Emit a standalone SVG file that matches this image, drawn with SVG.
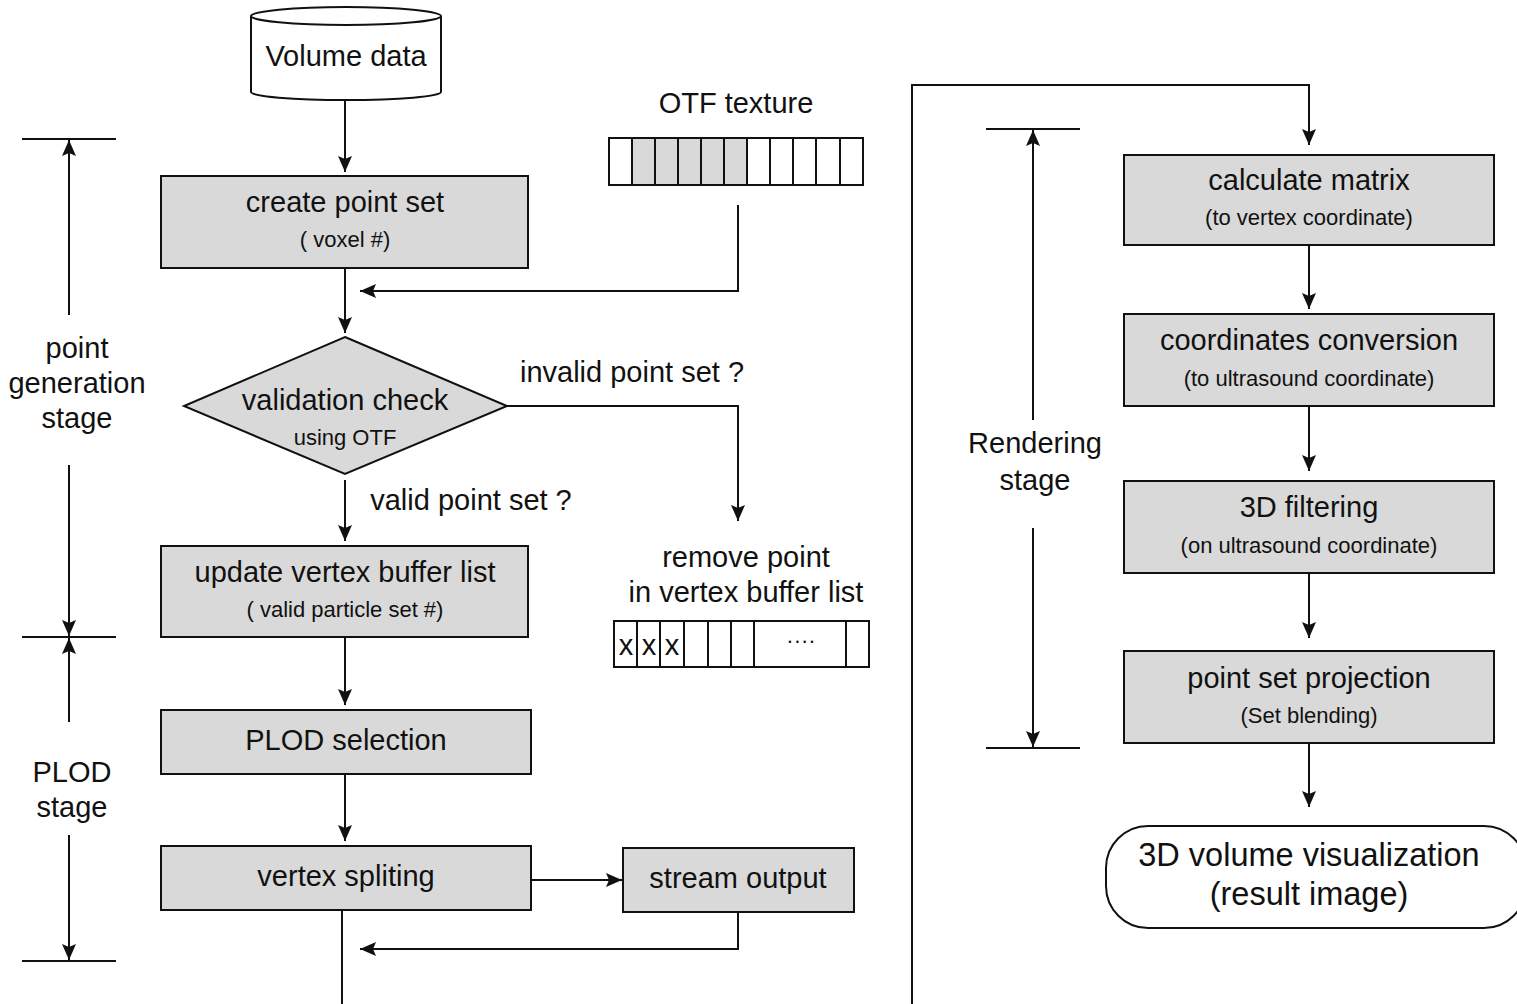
<svg xmlns="http://www.w3.org/2000/svg" width="1517" height="1004" viewBox="0 0 1517 1004">
  <style>
    text { font-family: "Liberation Sans", Arial, sans-serif; fill: #111; text-anchor: middle; }
    .t { font-size: 29px; }
    .s { font-size: 22px; }
    .big { font-size: 32.5px; }
    .box { fill: #d9d9d9; stroke: #111; stroke-width: 2; }
    .open { fill: #fff; stroke: #111; stroke-width: 2; }
    .ln { fill: none; stroke: #111; stroke-width: 2; }
    .arr { fill: none; stroke: #111; stroke-width: 2; marker-end: url(#ah); }
  </style>
  <defs>
    <marker id="ah" viewBox="0 0 16 14" refX="16" refY="7" markerWidth="16" markerHeight="14" markerUnits="userSpaceOnUse" orient="auto">
      <path d="M0,0 L16,7 L0,14 L3,7 Z" fill="#111"/>
    </marker>
  </defs>
  <rect width="1517" height="1004" fill="#fff"/>

  <!-- stage brackets -->
  <g id="stage-point-generation">
    <line class="ln" x1="22" y1="139" x2="116" y2="139"/>
    <line class="arr" x1="69" y1="315" x2="69" y2="140"/>
    <text class="t" x="77" y="358">point</text>
    <text class="t" x="77" y="393">generation</text>
    <text class="t" x="77" y="428">stage</text>
    <line class="arr" x1="69" y1="465" x2="69" y2="636"/>
    <line class="ln" x1="22" y1="637" x2="116" y2="637"/>
  </g>
  <g id="stage-plod">
    <line class="arr" x1="69" y1="722" x2="69" y2="638"/>
    <text class="t" x="72" y="782">PLOD</text>
    <text class="t" x="72" y="817">stage</text>
    <line class="arr" x1="69" y1="835" x2="69" y2="960"/>
    <line class="ln" x1="22" y1="961" x2="116" y2="961"/>
  </g>
  <g id="stage-rendering">
    <line class="ln" x1="986" y1="129" x2="1080" y2="129"/>
    <line class="arr" x1="1033" y1="420" x2="1033" y2="130"/>
    <text class="t" x="1035" y="453">Rendering</text>
    <text class="t" x="1035" y="490">stage</text>
    <line class="arr" x1="1033" y1="528" x2="1033" y2="747"/>
    <line class="ln" x1="986" y1="748" x2="1080" y2="748"/>
  </g>

  <!-- nodes -->
  <g id="volume-data">
    <path class="open" d="M251,16 L251,92 A95,8 0 0 0 441,92 L441,16"/>
    <ellipse class="open" cx="346" cy="16" rx="95" ry="9"/>
    <text class="t" x="346" y="66">Volume data</text>
  </g>

  <g id="otf-texture">
    <text class="t" x="736" y="113">OTF texture</text>
    <rect x="632" y="138" width="115" height="47" fill="#d9d9d9"/>
    <rect class="ln" x="609" y="138" width="254" height="47"/>
    <path class="ln" d="M632,138 V185 M655,138 V185 M678,138 V185 M701,138 V185 M724,138 V185 M747,138 V185 M770,138 V185 M793,138 V185 M816,138 V185 M840,138 V185"/>
  </g>

  <g id="create-point-set">
    <rect class="box" x="161" y="176" width="367" height="92"/>
    <text class="t" x="345" y="212">create point set</text>
    <text class="s" x="345" y="247">( voxel #)</text>
  </g>

  <g id="validation-check">
    <polygon class="box" points="345,337 507,406 345,474 184,406"/>
    <text class="t" x="345" y="410">validation check</text>
    <text class="s" x="345" y="445">using OTF</text>
  </g>

  <g id="update-vertex-buffer">
    <rect class="box" x="161" y="546" width="367" height="91"/>
    <text class="t" x="345" y="582">update vertex buffer list</text>
    <text class="s" x="345" y="617">( valid particle set #)</text>
  </g>

  <g id="remove-point">
    <text class="t" x="746" y="567">remove point</text>
    <text class="t" x="746" y="602">in vertex buffer list</text>
    <rect class="ln" x="614" y="621" width="255" height="46"/>
    <path class="ln" d="M637,621 V667 M660,621 V667 M684,621 V667 M708,621 V667 M731,621 V667 M754,621 V667 M846,621 V667"/>
    <text class="t" x="626" y="655">x</text>
    <text class="t" x="649" y="655">x</text>
    <text class="t" x="672" y="655">x</text>
    <text class="s" x="801" y="648">····</text>
  </g>

  <g id="plod-selection">
    <rect class="box" x="161" y="710" width="370" height="64"/>
    <text class="t" x="346" y="750">PLOD selection</text>
  </g>

  <g id="vertex-spliting">
    <rect class="box" x="161" y="846" width="370" height="64"/>
    <text class="t" x="346" y="886">vertex spliting</text>
  </g>

  <g id="stream-output">
    <rect class="box" x="623" y="848" width="231" height="64"/>
    <text class="t" x="738" y="888">stream output</text>
  </g>

  <g id="calculate-matrix">
    <rect class="box" x="1124" y="155" width="370" height="90"/>
    <text class="t" x="1309" y="190">calculate matrix</text>
    <text class="s" x="1309" y="225">(to vertex coordinate)</text>
  </g>

  <g id="coordinates-conversion">
    <rect class="box" x="1124" y="314" width="370" height="92"/>
    <text class="t" x="1309" y="350">coordinates conversion</text>
    <text class="s" x="1309" y="386">(to ultrasound coordinate)</text>
  </g>

  <g id="filtering-3d">
    <rect class="box" x="1124" y="481" width="370" height="92"/>
    <text class="t" x="1309" y="517">3D filtering</text>
    <text class="s" x="1309" y="553">(on ultrasound coordinate)</text>
  </g>

  <g id="point-set-projection">
    <rect class="box" x="1124" y="651" width="370" height="92"/>
    <text class="t" x="1309" y="688">point set projection</text>
    <text class="s" x="1309" y="723">(Set blending)</text>
  </g>

  <g id="volume-visualization">
    <rect class="open" x="1106" y="826" width="420" height="102" rx="42" ry="42"/>
    <text class="big" x="1309" y="866">3D volume visualization</text>
    <text class="big" x="1309" y="905">(result image)</text>
  </g>

  <!-- connectors -->
  <g id="connectors">
    <line class="arr" x1="345" y1="100" x2="345" y2="172"/>
    <path class="arr" d="M738,205 V291 H360"/>
    <line class="arr" x1="345" y1="268" x2="345" y2="333"/>
    <path class="arr" d="M507,406 H738 V521"/>
    <text class="t" x="632" y="382">invalid point set ?</text>
    <line class="arr" x1="345" y1="480" x2="345" y2="541"/>
    <text class="t" x="471" y="510">valid point set ?</text>
    <line class="arr" x1="345" y1="637" x2="345" y2="705"/>
    <line class="arr" x1="345" y1="774" x2="345" y2="841"/>
    <line class="arr" x1="531" y1="880" x2="622" y2="880"/>
    <path class="arr" d="M738,912 V949 H360"/>
    <line class="ln" x1="342" y1="910" x2="342" y2="1004"/>
    <path class="arr" d="M912,1004 V85 H1309 V145"/>
    <line class="arr" x1="1309" y1="245" x2="1309" y2="309"/>
    <line class="arr" x1="1309" y1="406" x2="1309" y2="471"/>
    <line class="arr" x1="1309" y1="573" x2="1309" y2="638"/>
    <line class="arr" x1="1309" y1="743" x2="1309" y2="807"/>
  </g>
</svg>
